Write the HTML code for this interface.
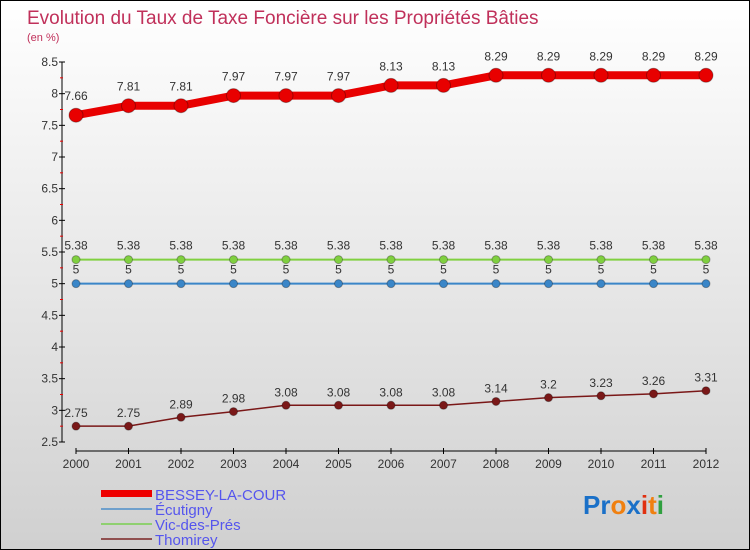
<!DOCTYPE html>
<html><head><meta charset="utf-8"><style>
body{margin:0}
#wrap{position:relative;width:748px;height:548px;border:1px solid #000;background:linear-gradient(#ffffff,#d0d0d0);font-family:"Liberation Sans",sans-serif;overflow:hidden}
</style></head><body>
<div id="wrap">
<svg id="chart" width="748" height="548" style="position:absolute;left:0;top:0">
<text x="26" y="23" font-size="19" fill="#c0305a">Evolution du Taux de Taxe Foncière sur les Propriétés Bâties</text>
<text x="26" y="40" font-size="11" fill="#c0305a">(en %)</text>
<g id="axes"></g><g id="series"></g>
<g>
<rect x="100" y="489" width="51" height="7" fill="#e00"/>
<text x="154" y="499" font-size="15" fill="#5555ee">BESSEY-LA-COUR</text>
<line x1="100" y1="508" x2="151" y2="508" stroke="#6fa0cc" stroke-width="2"/>
<text x="154" y="514" font-size="15" fill="#5555ee">Écutigny</text>
<line x1="100" y1="523" x2="151" y2="523" stroke="#8fd070" stroke-width="2"/>
<text x="154" y="529" font-size="15" fill="#5555ee">Vic-des-Prés</text>
<line x1="100" y1="538" x2="151" y2="538" stroke="#905050" stroke-width="2"/>
<text x="154" y="544" font-size="15" fill="#5555ee">Thomirey</text>
</g>
<text x="582" y="513" font-size="26" font-weight="bold"><tspan fill="#1a70c8">Pr</tspan><tspan fill="#f08010">o</tspan><tspan fill="#1a70c8">x</tspan><tspan fill="#e03010">i</tspan><tspan fill="#f08010">t</tspan><tspan fill="#30a040">i</tspan></text>
</svg>
</div>
<script>
const years=[2000,2001,2002,2003,2004,2005,2006,2007,2008,2009,2010,2011,2012];
const bessey=[7.66,7.81,7.81,7.97,7.97,7.97,8.13,8.13,8.29,8.29,8.29,8.29,8.29];
const ecutigny=[5,5,5,5,5,5,5,5,5,5,5,5,5];
const vic=[5.38,5.38,5.38,5.38,5.38,5.38,5.38,5.38,5.38,5.38,5.38,5.38,5.38];
const thomirey=[2.75,2.75,2.89,2.98,3.08,3.08,3.08,3.08,3.14,3.2,3.23,3.26,3.31];
const yTicks=[2.5,3,3.5,4,4.5,5,5.5,6,6.5,7,7.5,8,8.5];
const NS="http://www.w3.org/2000/svg";
const yMin=2.5,yMax=8.5,yTop=61,yBot=441;
function y(v){return yBot-(v-yMin)/(yMax-yMin)*(yBot-yTop);}
function x(i){return 75+i*(705-75)/(years.length-1);}
function mk(tag,attrs,parent){const e=document.createElementNS(NS,tag);for(const k in attrs)e.setAttribute(k,attrs[k]);parent.appendChild(e);return e;}
const ax=document.getElementById('axes');
let l=mk('line',{x1:61,y1:yTop,x2:61,y2:yBot,stroke:'#000'},ax);


yTicks.forEach(v=>{
 mk('line',{x1:58,y1:y(v),x2:64,y2:y(v),stroke:'#000'},ax);
 mk('line',{x1:59,y1:y(v+0.25),x2:62,y2:y(v+0.25),stroke:v<8.5?'#e00':'none'},ax);
 const t=mk('text',{x:57,y:y(v)+4,'text-anchor':'end','font-size':12,fill:'#333'},ax);t.textContent=v;
 
 
});
l=mk('line',{x1:75,y1:450,x2:705,y2:450,stroke:'#000'},ax);


years.forEach((yr,i)=>{
 mk('line',{x1:x(i),y1:447,x2:x(i),y2:453,stroke:'#000'},ax);
 const t=mk('text',{x:x(i),y:467,'text-anchor':'middle','font-size':12,fill:'#333'},ax);t.textContent=yr;
 
 
});
const sg=document.getElementById('series');
function draw(data,name,color,w,r,labelDy){
 const g=mk('g',{},sg);
 
 
 const pl=mk('polyline',{points:data.map((v,i)=>x(i)+','+y(v)).join(' '),fill:'none',stroke:color,'stroke-width':w},g);
 
 
 data.forEach((v,i)=>{
  const c=mk('circle',{cx:x(i),cy:y(v),r:r,fill:color,stroke:'rgba(0,0,0,0.3)','stroke-width':1},g);
  
  
  const t=mk('text',{x:x(i)+(i==0&&name=='bessey'?0:0),y:y(v)+labelDy,'text-anchor':'middle','font-size':12,fill:'#333'},g);
  t.textContent=v;
  
  
 });
}
draw(vic,'vic','#80d040',2,4,-10);
draw(ecutigny,'ecutigny','#3a86c8',2,4,-10);
draw(thomirey,'thomirey','#7a1818',1.5,4,-9);
draw(bessey,'bessey','#e80000',8,7,-15);
</script>
</body></html>
